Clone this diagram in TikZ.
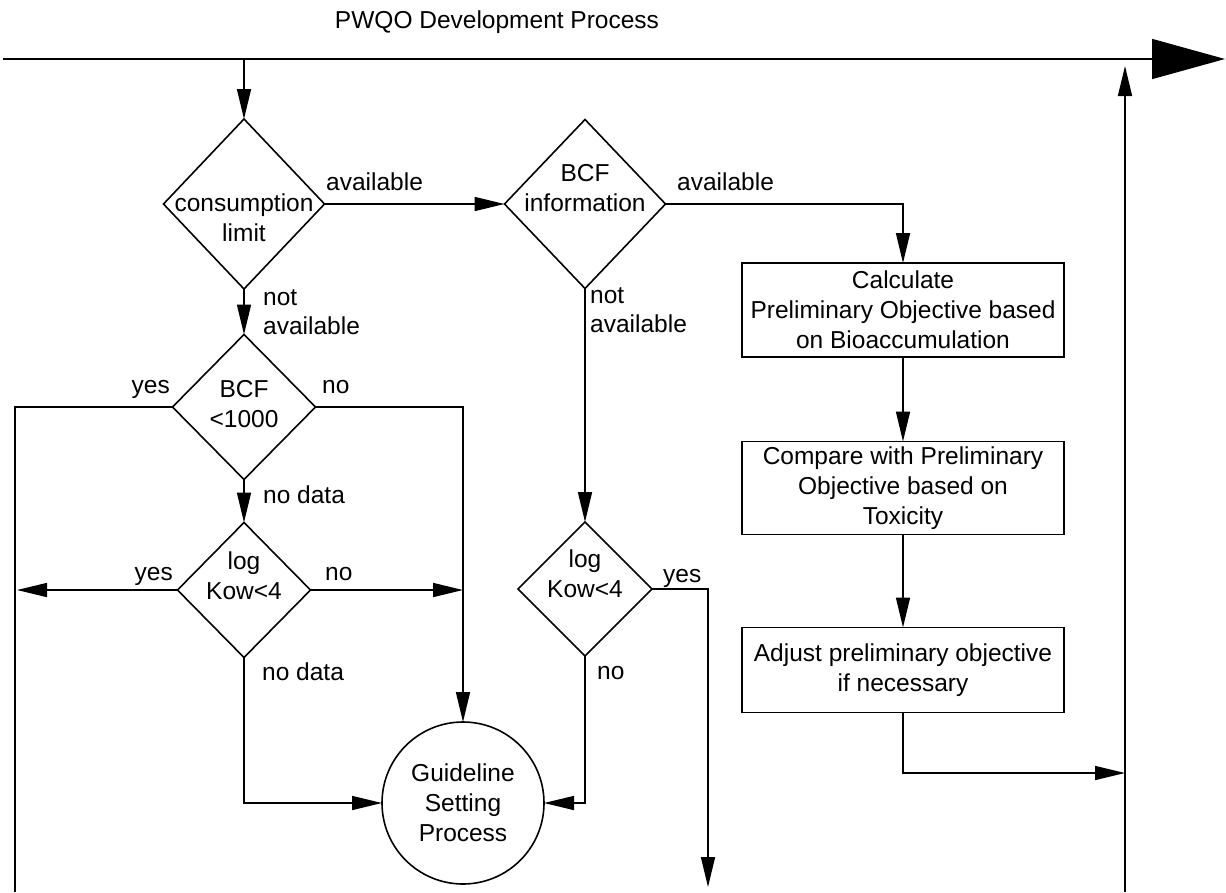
\documentclass[tikz,border=0pt]{standalone}
\usepackage{fontspec}
\setmainfont{Liberation Sans}
\usetikzlibrary{shapes.geometric,arrows.meta}
\begin{document}
\begin{tikzpicture}[x=1pt,y=-1pt,
  every node/.style={font=\fontsize{24.5}{30}\selectfont, inner sep=0pt},
  dia/.style={draw, diamond, line width=1.6pt, inner sep=0pt, outer sep=0pt},
  stepbox/.style={draw, rectangle, line width=1.6pt, minimum width=322pt, align=center, outer sep=0pt},
  circ/.style={draw, circle, line width=1.6pt, minimum size=162pt, align=center, outer sep=0pt},
  lbl/.style={anchor=base west},
  lblr/.style={anchor=base east},
  conn/.style={line width=1.6pt},
  arr/.style={conn, -{Triangle[length=30pt,width=14pt]}},
]
\path[use as bounding box] (0,0) rectangle (1226,892);

% title and main process line
\node (title) at (497,22) {PWQO Development Process};
\coordinate (tl) at (3,59);
\coordinate (tr) at (1225,59);
\draw[conn, -{Triangle[length=73pt,width=40pt]}] (tl) -- (tr);

% decisions
\node[dia, minimum width=161pt, minimum height=170pt] (d1) at (244,204) {};
\node[align=center] (d1t) at (244,218) {consumption\\limit};
\node[dia, minimum width=161pt, minimum height=169pt] (d2) at (585,204) {};
\node[align=center] (d2t) at (585,188) {BCF\\information};
\node[dia, minimum width=143pt, minimum height=145pt] (d3) at (244,407) {};
\node[align=center] (d3t) at (244,404) {BCF\\<1000};
\node[dia, minimum width=133pt, minimum height=135pt] (d4) at (244,590) {};
\node[align=center] (d4t) at (244,576) {log\\Kow<4};
\node[dia, minimum width=134pt, minimum height=134pt] (d5) at (585,589) {};
\node[align=center] (d5t) at (585,574) {log\\Kow<4};

% process boxes
\node[stepbox, minimum height=94pt] (b1) at (903,310) {Calculate\\Preliminary Objective based\\on Bioaccumulation};
\node[stepbox, minimum height=93pt] (b2) at (903,488) {Compare with Preliminary\\Objective based on\\Toxicity};
\node[stepbox, minimum height=85pt] (b3) at (903,670) {Adjust preliminary objective\\if necessary};

% guideline circle
\node[circ] (g) at (463,803) {Guideline\\Setting\\Process};

% helper coordinates
\coordinate (top1) at (244,59);
\coordinate (rb) at (1125,892);
\coordinate (rt) at (1125,66);
\coordinate (rj) at (1125,773);
\coordinate (lt) at (15,407);
\coordinate (lb) at (15,892);
\coordinate (ly) at (17,590);
\coordinate (bb) at (708,887);

% connectors
\draw[arr] (top1) -- (d1.north);
\draw[arr] (d1.east) -- (d2.west);
\draw[arr] (d2.east) -| (b1.north);
\draw[arr] (b1.south) -- (b2.north);
\draw[arr] (b2.south) -- (b3.north);
\draw[arr] (b3.south) |- (rj);
\draw[arr] (rb) -- (rt);
\draw[arr] (d1.south) -- (d3.north);
\draw[conn] (d3.west) -- (lt) -- (lb);
\draw[arr] (d3.east) -| (g.north);
\draw[arr] (d3.south) -- (d4.north);
\draw[arr] (d4.west) -- (ly);
\draw[arr] (d4.east) -- (d4.east -| g.north);
\draw[arr] (d4.south) |- (g.west);
\draw[arr] (d2.south) -- (d5.north);
\draw[arr] (d5.east) -| (bb);
\draw[arr] (d5.south) |- (g.east);

% labels
\node[lbl] (l1) at (326,190) {available};
\node[lbl] (l2) at (677,190) {available};
\node[lbl] (l3) at (263,305) {not};
\node[lbl] (l4) at (263,334) {available};
\node[lbl] (l5) at (590,303) {not};
\node[lbl] (l6) at (590,332) {available};
\node[lblr] (l7) at (170,393) {yes};
\node[lbl] (l8) at (322,393) {no};
\node[lbl] (l9) at (263,503) {no data};
\node[lblr] (l10) at (173,580) {yes};
\node[lbl] (l11) at (325,580) {no};
\node[lbl] (l12) at (262,680) {no data};
\node[lbl] (l13) at (663,582) {yes};
\node[lbl] (l14) at (597,679) {no};
\end{tikzpicture}
\end{document}
